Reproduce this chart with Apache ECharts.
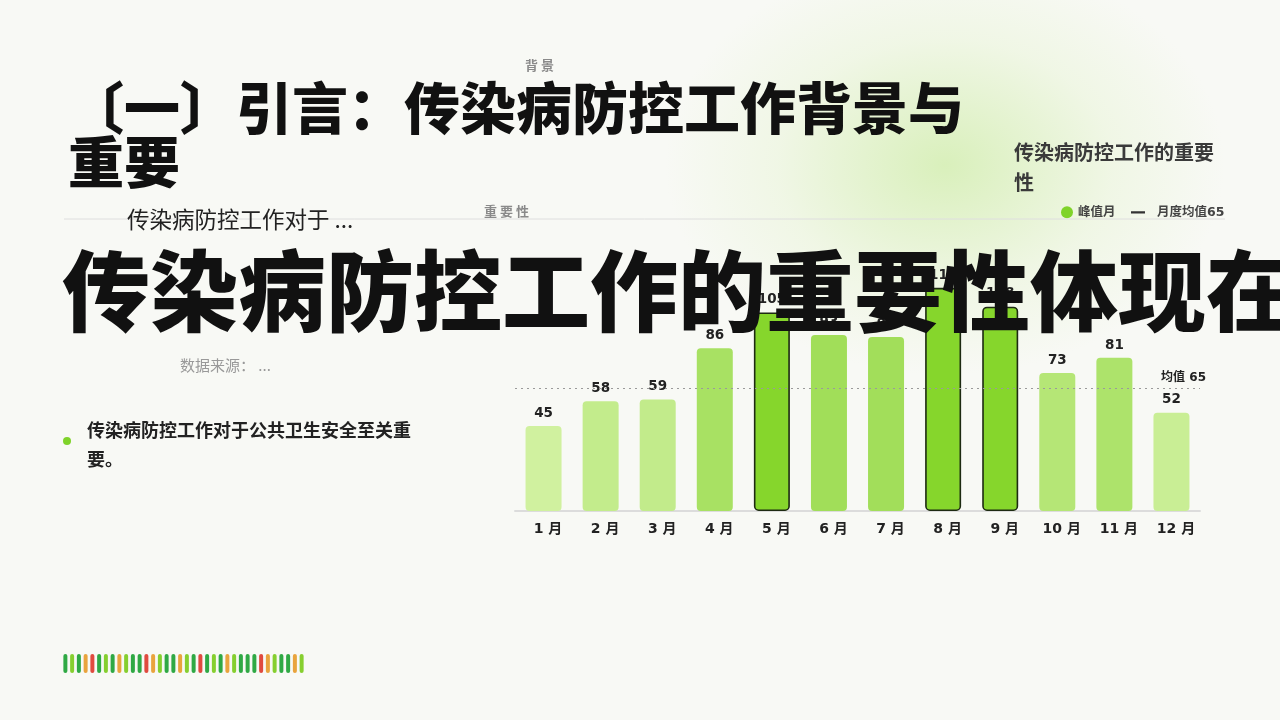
<!DOCTYPE html>
<html><head><meta charset="utf-8">
<script src="https://cdn.jsdelivr.net/npm/echarts@6/dist/echarts.min.js"></script>
<style>
html,body{margin:0;padding:0;width:1280px;height:720px;overflow:hidden;
background:#f8f9f5;}
#bg{position:absolute;left:0;top:0;width:1280px;height:720px;
background:radial-gradient(ellipse 280px 210px at 945px 165px, rgba(205,236,165,0.72), rgba(225,242,200,0.35) 60%, rgba(248,249,245,0) 100%);}
#c{position:absolute;left:0;top:0;width:1280px;height:720px;}
</style></head>
<body><div id="bg"></div><div id="c"></div>
<script>
const months = ['1 月','2 月','3 月','4 月','5 月','6 月','7 月','8 月','9 月','10 月','11 月','12 月'];
const values = [45, 58, 59, 86, 105, 93, 92, 118, 108, 73, 81, 52];
const peakMonths = ['5 月','8 月','9 月'];
const avgValue = 65;
const stripeCodes = ['G','L','G','O','R','G','L','G','O','L','G','G','R','O','L','G','G','O','L','G','R','G','L','G','O','L','G','G','G','R','O','L','G','G','O','L'];

const FONT = '"Noto Sans CJK SC","Noto Sans",sans-serif';
const NUMFONT = '"DejaVu Sans","Noto Sans CJK SC",sans-serif';
const stripeColors = {G:'#2fa944', L:'#86cf2f', O:'#e9a43d', R:'#e04b3f'};

function lerpColor(a, b, t){
  const pa=[parseInt(a.slice(1,3),16),parseInt(a.slice(3,5),16),parseInt(a.slice(5,7),16)];
  const pb=[parseInt(b.slice(1,3),16),parseInt(b.slice(3,5),16),parseInt(b.slice(5,7),16)];
  return 'rgb('+pa.map((v,i)=>Math.round(v+(pb[i]-v)*t)).join(',')+')';
}
const nonPeak = values.filter((v,i)=>peakMonths.indexOf(months[i])<0);
const vmin = Math.min(...nonPeak), vmax = Math.max(...nonPeak);

const barData = values.map((v,i)=>{
  const peak = peakMonths.indexOf(months[i])>=0;
  return {
    value: v,
    itemStyle: peak ? {color:'#86d62c', borderColor:'#1d2a12', borderWidth:1.6}
                    : {color: lerpColor('#d0f19f','#a1de59',(v-vmin)/(vmax-vmin))}
  };
});

const legendText = {fontFamily:NUMFONT, fontSize:12.5, fontWeight:'bold', color:'#444'};
const chart = echarts.init(document.getElementById('c'), null, {renderer:'canvas'});
chart.setOption({
  backgroundColor:'transparent',
  textStyle:{fontFamily:FONT},
  animation:false,
  legend:[
    {left:1056, top:201, itemWidth:12, itemHeight:12, itemGap:4, textStyle:legendText,
     data:[{name:'峰值月', icon:'circle', itemStyle:{color:'#7fd32a'}}]},
    {left:1126, top:201, itemWidth:21, itemHeight:12, textStyle:legendText,
     data:[{name:'月度均值65', icon:'path://M0 5h14v2.2H0z M0 0h0.01v0.01H0z M21 12h0.01v0.01H21z', itemStyle:{color:'#333'}}]}
  ],
  grid:[
    {left:515, right:80, top:284, bottom:209},
    {left:62, width:243, top:654, height:19}
  ],
  xAxis:[
    {type:'category', data:months, gridIndex:0,
     axisLine:{lineStyle:{color:'#dcdcdc', width:2}}, axisTick:{show:false},
     axisLabel:{margin:11, padding:[0,0,0,9], fontFamily:NUMFONT, fontSize:14, fontWeight:'bold', color:'#222'}},
    {type:'category', data:stripeCodes.map((c,i)=>i), gridIndex:1, show:false}
  ],
  yAxis:[
    {type:'value', min:0, max:120, gridIndex:0, show:false, splitLine:{show:false}},
    {type:'value', min:0, max:1, gridIndex:1, show:false}
  ],
  graphic:[
    {type:'text', left:68, top:80, z:50, style:{text:'〔一〕引言：传染病防控工作背景与重要', width:920, overflow:'break',
      font:'900 56px '+FONT, lineHeight:54, fill:'#111'}},
    {type:'text', left:525, top:59, z:50, style:{text:'背 景', font:'bold 13px '+FONT, fill:'#8a8a8a'}},
    {type:'text', left:484, top:205, z:50, style:{text:'重 要 性', font:'bold 13px '+FONT, fill:'#8a8a8a'}},
    {type:'line', z:5, shape:{x1:64,y1:219,x2:1225,y2:219}, style:{stroke:'#dedede', lineWidth:1}},
    {type:'text', left:127, top:208, z:50, style:{text:'传染病防控工作对于 ...', font:'22.5px '+FONT, fill:'#222'}},
    {type:'text', left:1014, top:137, z:50, style:{text:'传染病防控工作的重要性', width:212, overflow:'break',
      font:'bold 20px '+FONT, lineHeight:30, fill:'#3a3a3a'}},
    {type:'text', left:62, top:247, z:100, style:{text:'传染病防控工作的重要性体现在', font:'900 88px '+FONT, fill:'#111'}},
    {type:'text', left:180, top:358, z:50, style:{text:'数据来源： ...', font:'15px '+FONT, fill:'#999'}},
    {type:'circle', z:50, shape:{cx:67, cy:441, r:4}, style:{fill:'#7fd32a'}},
    {type:'text', left:87, top:416, z:50, style:{text:'传染病防控工作对于公共卫生安全至关重要。', width:330, overflow:'break',
      font:'bold 18px '+FONT, lineHeight:29, fill:'#222'}}
  ],
  series:[
    {name:'峰值月', type:'bar', xAxisIndex:0, yAxisIndex:0, data:barData, barWidth:36, z:3,
     itemStyle:{color:'#86d62c', borderRadius:4},
     label:{show:true, position:'top', distance:6, fontFamily:NUMFONT, fontSize:13.5, fontWeight:'bold', color:'#222'}},
    {name:'月度均值65', type:'line', xAxisIndex:0, yAxisIndex:0, data:[], z:4,
     itemStyle:{color:'#333'},
     markLine:{silent:true, symbol:'none', data:[{yAxis:avgValue}],
       lineStyle:{type:[2,4], color:'#9a9a9a', width:1},
       label:{show:true, position:'insideEndTop', formatter:'均值 ' + avgValue, distance:[-6,4],
         fontFamily:NUMFONT, fontSize:12, fontWeight:'bold', color:'#222'}}},
    {type:'bar', xAxisIndex:1, yAxisIndex:1, barWidth:4, silent:true,
     data:stripeCodes.map(c=>({value:1, itemStyle:{color:stripeColors[c], borderRadius:2}}))}
  ]
});
</script></body></html>
